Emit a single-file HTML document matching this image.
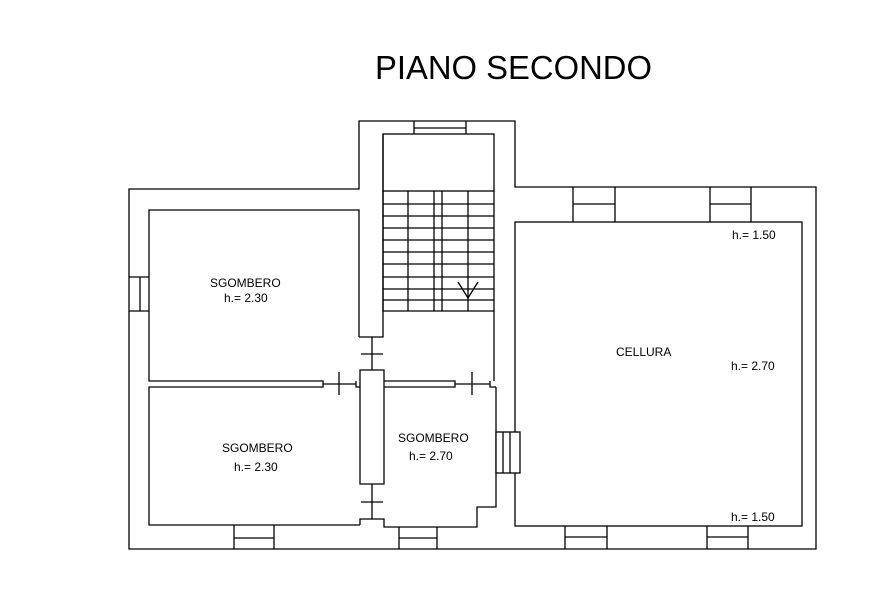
<!DOCTYPE html>
<html><head><meta charset="utf-8"><style>body{margin:0;background:#fff}svg{display:block}</style></head><body>
<svg width="871" height="594" viewBox="0 0 871 594" xmlns="http://www.w3.org/2000/svg" font-family="Liberation Sans, sans-serif">
<text x="375" y="79" font-size="33" textLength="277" lengthAdjust="spacingAndGlyphs">PIANO SECONDO</text>
<g fill="none" stroke="#000" stroke-width="1.3">
<path d="M129 189 H359 V121 H515 V187 H816 V549 H129 Z"/>
<path d="M414 121 V134 M466 121 V134 M414 128 H466"/>
<rect x="383" y="134" width="111" height="57"/>
<path d="M383 191 V311 H494 V191"/>
<path d="M383 204H494M383 216H494M383 228H494M383 240H494M383 252H494M383 264H494M383 277H494M383 289H494M383 300H494"/>
<path d="M408 191V311 M434 191V311 M442 191V311 M468 191V311"/>
<path d="M458 282 L468 298 L478 282"/>
<path d="M359 337 V210 H149 V381 H323 V387 H149 V525 H360"/>
<path d="M359 337 H383 V134"/>
<path d="M372 337 V370 M361 354 H383"/>
<path d="M129 277 H149 M129 311 H149 M140 277 V311"/>
<path d="M323 384 H356 M339 372 V395"/>
<path d="M356 381 V387 H360 M360 370 H384 V484 H360 Z"/>
<path d="M384 381 H455 V387 H384 M455 384 H490 M472 372 V395 M490 381 V387 H496"/>
<path d="M372 484 V519 M361 502 H383"/>
<path d="M360 525 V519 H384 V527 H477 V507 H496 V387 M494 311 V381"/>
<path d="M234 525 V549 M274 525 V549 M234 538 H274"/>
<path d="M399 527 V549 M437 527 V549 M399 538 H437"/>
<rect x="515" y="222" width="287" height="304"/>
<path d="M573 187 V222 M615 187 V222 M573 204 H615"/>
<path d="M710 187 V222 M751 187 V222 M710 204 H751"/>
<path d="M565 526 V549 M607 526 V549 M565 537 H607"/>
<path d="M707 526 V549 M748 526 V549 M707 537 H748"/>
<rect x="496" y="432" width="24" height="41" fill="#fff"/>
<path d="M503 432 V473 M510 432 V473"/>
</g>
<g font-size="12">
<text x="210" y="287">SGOMBERO</text>
<text x="224" y="302">h.= 2.30</text>
<text x="222" y="452">SGOMBERO</text>
<text x="234" y="471">h.= 2.30</text>
<text x="398" y="442">SGOMBERO</text>
<text x="409" y="460">h.= 2.70</text>
<text x="616" y="356">CELLURA</text>
<text x="731" y="370">h.= 2.70</text>
<text x="732" y="239">h.= 1.50</text>
<text x="731" y="521">h.= 1.50</text>
</g>
</svg>
</body></html>
